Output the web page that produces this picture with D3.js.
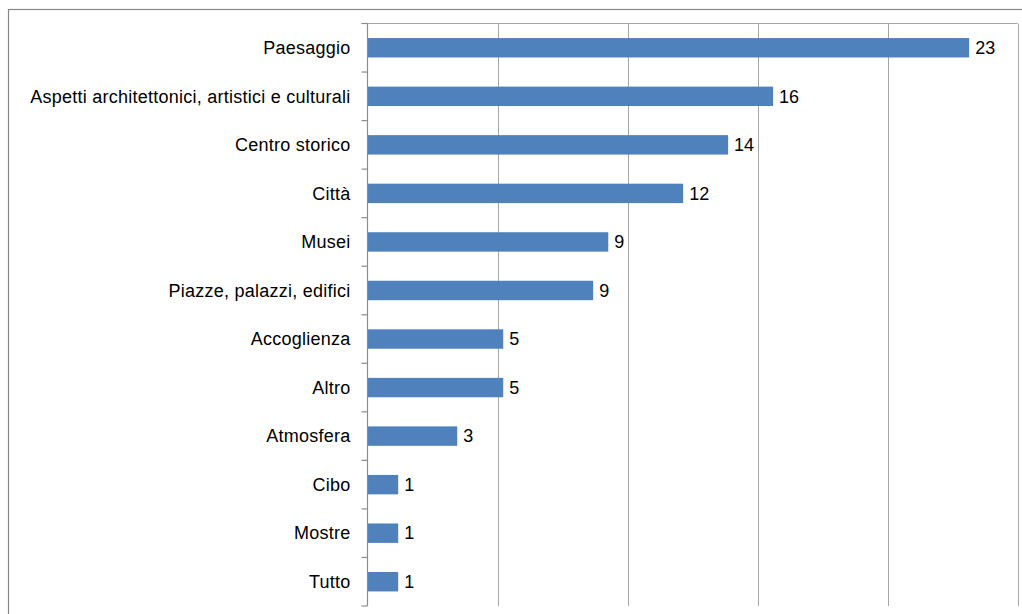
<!DOCTYPE html>
<html>
<head>
<meta charset="utf-8">
<script src="https://cdn.jsdelivr.net/npm/d3@7"></script>
<style>
  html, body { margin: 0; padding: 0; background: #fff; }
  svg { display: block; }
</style>
</head>
<body>
<div id="chart"></div>
<script>
"use strict";

/* ── Data (percentages; labels shown rounded) ── */
const categories = [
  "Paesaggio",
  "Aspetti architettonici, artistici e culturali",
  "Centro storico",
  "Città",
  "Musei",
  "Piazze, palazzi, edifici",
  "Accoglienza",
  "Altro",
  "Atmosfera",
  "Cibo",
  "Mostre",
  "Tutto"
];
const values = [23.14, 15.6, 13.87, 12.14, 9.26, 8.68, 5.22, 5.22, 3.45, 1.18, 1.18, 1.18];
const xTicks = [0, 5, 10, 15, 20, 25];

/* ── Dimensions ── */
const W = 1022, H = 614;
const plot = { left: 367.5, top: 23.5, right: 1017.5, bottom: 606 };
const FONT = "'Liberation Sans', Arial, sans-serif";

const svg = d3.select("#chart")
  .append("svg")
  .attr("width", W)
  .attr("height", H);

svg.append("rect")
  .attr("width", W).attr("height", H)
  .attr("fill", "#fff");

/* ── Outer chart border (runs off the picture right and bottom) ── */
svg.append("rect")
  .attr("x", 8.5).attr("y", 9.5)
  .attr("width", W + 20).attr("height", H + 20)
  .attr("fill", "none")
  .attr("stroke", "#868686")
  .attr("stroke-width", 1.2);

/* ── Scales ── */
const x = d3.scaleLinear()
  .domain([0, 25])
  .range([plot.left, plot.right]);

const y = d3.scaleBand()
  .domain(categories)
  .range([plot.top, plot.bottom])
  .paddingInner(0.6)
  .paddingOuter(0.3);

/* ── Vertical gridlines ── */
svg.append("g")
  .selectAll("line")
  .data(xTicks.slice(1))
  .join("line")
  .attr("x1", d => Math.round(x(d)) + 0.5)
  .attr("x2", d => Math.round(x(d)) + 0.5)
  .attr("y1", plot.top)
  .attr("y2", plot.bottom)
  .attr("stroke", "#a6a6a6")
  .attr("stroke-width", 1);

/* ── Value axis at top (no labels) ── */
svg.append("line")
  .attr("x1", plot.left - 6).attr("x2", plot.right)
  .attr("y1", plot.top).attr("y2", plot.top)
  .attr("stroke", "#a6a6a6")
  .attr("stroke-width", 1.2);

/* ── Bars ── */
svg.append("g")
  .selectAll("rect")
  .data(values)
  .join("rect")
  .attr("x", x(0))
  .attr("y", (d, i) => y(categories[i]))
  .attr("width", d => x(d) - x(0))
  .attr("height", y.bandwidth())
  .attr("fill", "#4f81bd");

/* ── Category axis ── */
const step = y.step();
const boundaries = d3.range(categories.length + 1).map(i => plot.top + i * step);

svg.append("line")
  .attr("x1", plot.left).attr("x2", plot.left)
  .attr("y1", plot.top).attr("y2", plot.bottom)
  .attr("stroke", "#8c8c8c")
  .attr("stroke-width", 1.2);

svg.append("g")
  .selectAll("line")
  .data(boundaries)
  .join("line")
  .attr("x1", plot.left - 6).attr("x2", plot.left)
  .attr("y1", d => d).attr("y2", d => d)
  .attr("stroke", "#8c8c8c")
  .attr("stroke-width", 1.2);

svg.append("g")
  .selectAll("text")
  .data(categories)
  .join("text")
  .attr("x", plot.left - 17)
  .attr("y", d => y(d) + y.bandwidth() / 2)
  .attr("dy", "0.35em")
  .attr("text-anchor", "end")
  .attr("font-family", FONT)
  .attr("font-size", "18px")
  .attr("letter-spacing", "0.25px")
  .attr("fill", "#000")
  .text(d => d);

/* ── Value labels ── */
const fmt = d3.format(".0f");
svg.append("g")
  .selectAll("text")
  .data(values)
  .join("text")
  .attr("x", d => x(d) + 6)
  .attr("y", (d, i) => y(categories[i]) + y.bandwidth() / 2)
  .attr("dy", "0.35em")
  .attr("font-family", FONT)
  .attr("font-size", "18px")
  .attr("fill", "#000")
  .text(d => fmt(d));
</script>
</body>
</html>
